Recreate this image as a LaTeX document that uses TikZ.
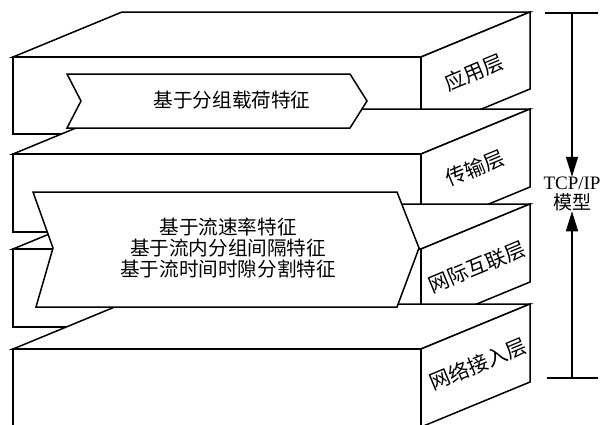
\documentclass[tikz,border=0pt]{standalone}
\usepackage{fontspec}
\setmainfont{Liberation Serif}
\newfontfamily\cjk{Noto Sans CJK SC}
\usetikzlibrary{arrows.meta}
\tikzset{
  face/.style={draw=black, fill=white, line width=1.5pt},
  tag/.style={font=\cjk\fontsize{19.6}{21}\selectfont, inner sep=0pt, align=center},
  sidetag/.style={font=\cjk\fontsize{20.5}{22}\selectfont, inner sep=0pt, rotate=22.6},
  modelarrow/.style={line width=1.5pt, -{Triangle[length=20pt,width=12pt]}},
  bar/.style={line width=1.5pt}
}
\newcommand\layerbox[2]{%
  \filldraw[face] (13,#1) -- (122,#1-45) -- (530,#1-45) -- (421,#1) -- cycle;
  \filldraw[face] (13,#1) rectangle (421,#2);
  \filldraw[face] (421,#1) -- (530,#1-45) -- (530,#2-45) -- (421,#2) -- cycle;
}
\begin{document}
\begin{tikzpicture}[x=1pt,y=-1pt]
\useasboundingbox[fill=white] (0,0) rectangle (612,424);
\begin{scope}
\clip (0,0) rectangle (612,424);
% application layer
\layerbox{57}{134}
% transport layer
\layerbox{154}{232}
% small arrow
\filldraw[face] (67,74) -- (350,74) -- (367,101) -- (350,128) -- (67,128) -- (81,101) -- cycle;
\node[tag] (payload) at (232,100) {基于分组载荷特征};
% internet layer
\layerbox{249}{327}
% network access layer
\layerbox{349}{427}
% big arrow
\filldraw[face] (33,192) -- (397,192) -- (419,248) -- (397,307) -- (36,307) -- (53,248) -- cycle;
\node[tag] (flow) at (228,248) {基于流速率特征\\基于流内分组间隔特征\\基于流时间时隙分割特征};
\end{scope}
% side labels
\node[sidetag] (app) at (474,72) {应用层};
\node[sidetag] (trans) at (475,168) {传输层};
\node[sidetag] (inet) at (477,267) {网际互联层};
\node[sidetag] (acc) at (478,364) {网络接入层};
% TCP/IP model annotation
\coordinate (tl) at (545,13);
\coordinate (tr) at (598,13);
\coordinate (tm) at (572,13);
\coordinate (bl) at (547,378);
\coordinate (br) at (598,378);
\coordinate (bm) at (572,378);
\draw[bar] (tl) -- (tr);
\draw[bar] (bl) -- (br);
\node[inner sep=0pt, align=center, font=\fontsize{19}{20}\selectfont] (model) at (572,194) {TCP/IP\\{\cjk 模型}};
\draw[modelarrow] (tm) -- (model.north);
\draw[modelarrow] (bm) -- (model.south);
\end{tikzpicture}
\end{document}
